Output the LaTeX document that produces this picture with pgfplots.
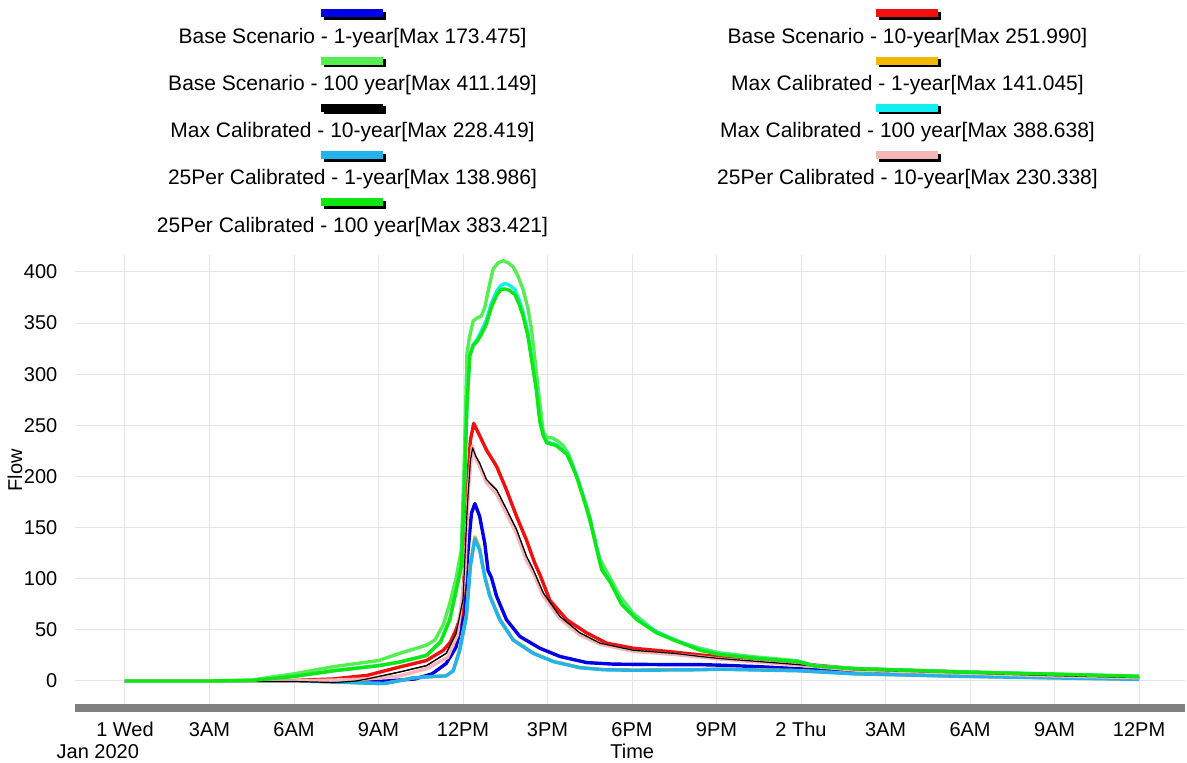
\documentclass[border=0pt]{standalone}
\usepackage{fontspec}
\setmainfont{Liberation Sans}
\usepackage{pgfplots}
\pgfplotsset{compat=1.18}
\usepackage{pgfplotstable}

\definecolor{cBone}{HTML}{0000E6}
\definecolor{cBten}{HTML}{F01010}
\definecolor{cBhun}{HTML}{55EE50}
\definecolor{cMone}{HTML}{F5B800}
\definecolor{cMten}{HTML}{000000}
\definecolor{cMhun}{HTML}{10F0F0}
\definecolor{cPone}{HTML}{22B2EE}
\definecolor{cPten}{HTML}{F4B6B6}
\definecolor{cPhun}{HTML}{10E610}

% legend swatch: coloured bar with a black shadow
\newcommand{\lbar}[1]{\makebox[31pt][l]{\rlap{\hspace*{1.2pt}\raisebox{-1.2pt}{\textcolor{black}{\rule{31pt}{4pt}}}}\textcolor{#1}{\rule{31pt}{4pt}}}}
% legend entry: swatch centred above the text
\newcommand{\lent}[2]{\vbox{\offinterlineskip\halign{\hfil##\hfil\cr\lbar{#1}\cr\noalign{\vskip 4.1pt}\fontsize{10.5}{12.6}\selectfont #2\cr}}}

% time in hours from 1 Jan 2020 00:00
\pgfplotstableread{
t v
0 0
3 0
6 0
7.5 -0.5
8.5 -1
9.3 0
10.3 2
10.9 7
11.4 17
11.75 33
12.0 62
12.18 128
12.30 164
12.42 173.5
12.59 161
12.77 135
12.89 108
13.01 101
13.19 83
13.54 60
14.02 43.5
14.73 32
15.44 24
16.39 18
17.34 16.5
19.23 16
20.42 16
21.1 15.5
22.5 14
23.9 12
25.9 9
29.6 5.6
33 3.8
36 2.3
}\bOne

\pgfplotstableread{
t v
0 0
3 0
6 0.5
7.4 2
8.6 5.5
9.75 13.7
10.7 20
11.3 30
11.55 38
11.75 50
11.94 65
12.06 110
12.16 190
12.26 235
12.38 252
12.5 245
12.59 240
12.83 226
13.19 210
13.54 187
13.90 161
14.25 138
14.55 115
14.73 104
15.08 79
15.68 60
16.39 47
17.10 37
18.05 32
19.23 29
20.42 25.5
21.1 23.7
23.9 17
25.9 12
29.6 9
33 6
36 4
}\bTen

\pgfplotstableread{
t v
0 0
3 0
4.5 1
6 7
7.4 14
9 20
9.75 27
10.7 35
11.0 40
11.3 55
11.53 76
11.75 100
11.94 128
12.05 220
12.14 320
12.22 335
12.36 352
12.5 355
12.65 357
12.77 365
12.92 385
13.07 403
13.25 409
13.42 411
13.6 409
13.78 405
13.95 396
14.13 383
14.3 365
14.43 344
14.55 315
14.67 285
14.85 243
15.0 238
15.14 238
15.35 235
15.56 230
15.75 222
15.91 210
16.15 190
16.39 168
16.62 144
16.86 119
17.16 104
17.57 83
18.05 66
18.76 50
19.47 40
20.42 32
21.1 27.6
22.3 23.7
23.4 21
23.88 19.7
24.5 14.8
25.94 12.2
29.6 8.9
33.2 6.6
36 4.6
}\bHun

\pgfplotstableread{
t v
0 0
6 0
7 -0.5
8.5 -2
9.2 -2.5
9.7 0
10.2 3
11 4.5
11.4 5
11.65 10
11.88 30
12.12 64
12.26 114
12.42 141
12.59 130
12.77 103
12.95 84
13.30 61
13.78 40.5
14.49 27.5
15.2 19.3
16.15 13.2
17 11.2
18.05 10.7
20.42 11.2
21.1 11.7
23.9 10.2
25.9 7.1
29.6 4.7
33 3.1
36 1.7
}\mOne

\pgfplotstableread{
t v
0 0
6 -0.5
7.5 -1.5
8.2 0
8.6 2
9.75 8.8
10.7 15
11.4 27
11.75 46
12.0 80
12.15 170
12.26 215
12.34 228
12.45 220
12.59 213
12.83 197
13.19 187
13.54 168
13.90 148
14.25 122
14.49 109
14.85 86
15.44 63
16.15 47
16.86 37
18.05 30
19.5 27
20.42 24
21.1 22
23.9 16
25.9 11
29.6 8
33 5.2
36 3.3
}\mTen

\pgfplotstableread{
t v
0 0
3 0
4.5 0.5
6 4.5
7.4 10
9 15
9.75 18.5
10.7 25
11.2 38
11.53 60
11.94 112
12.05 190
12.14 270
12.24 319
12.36 329
12.5 334
12.65 342
12.83 353
13.0 369
13.19 381
13.35 387
13.49 388.6
13.65 387
13.84 383
14.0 372
14.13 361
14.3 341
14.43 317
14.6 287
14.73 255
14.85 241
14.97 234
15.32 231
15.68 223
15.85 213
16.03 201
16.27 181
16.51 159
16.72 133
16.92 110
17.22 98
17.63 76
18.17 61
18.88 48
19.59 39.5
20.42 30.5
21.1 26.5
22.3 22.8
23.4 20.2
23.88 19.2
24.5 14.7
25.94 12.1
29.6 8.9
33.2 6.5
36 4.5
}\mHun

\pgfplotstableread{
t v
0 0
6 0
7 -0.5
8.5 -2
9.2 -2.5
9.7 0
10.2 3
11 4.5
11.4 5
11.65 10
11.88 30
12.12 63
12.26 112
12.42 139
12.59 128
12.77 102
12.95 83
13.30 60
13.78 40
14.49 27
15.2 19
16.15 13
17 11
18.05 10.5
20.42 11
21.1 11.5
23.9 10
25.9 7
29.6 4.6
33 3
36 1.6
}\pOne

\pgfplotstableread{
t v
0 0
6 0
7.5 1
8.6 2
9.75 5
10.7 12
11.45 23
11.8 45
12.05 100
12.2 190
12.33 230
12.45 218
12.59 210
12.83 194
13.19 183
13.54 164
13.90 144
14.25 118
14.49 106
14.85 83
15.44 61
16.15 45
16.86 36
18.05 29
19.5 26
20.42 23.5
21.1 21.5
23.9 15.5
25.9 10.7
29.6 7.8
33 5
36 3.2
}\pTen

\pgfplotstableread{
t v
0 0
3 0
4.5 0.5
6 4.5
7.4 10
9 15
9.75 18.5
10.7 25
11.2 38
11.53 60
11.94 112
12.05 190
12.14 270
12.24 318
12.36 328
12.5 332
12.65 339
12.83 349
13.0 365
13.19 377
13.35 383
13.49 383.4
13.65 382
13.84 378
14.0 368
14.13 357
14.3 338
14.43 315
14.6 285
14.73 253
14.85 240
14.97 233
15.32 230
15.68 222
15.85 212
16.03 200
16.27 180
16.51 158
16.72 132
16.92 109
17.22 97
17.63 75
18.17 60
18.88 47
19.59 39
20.42 30
21.1 26
22.3 22.5
23.4 20
23.88 19
24.5 14.5
25.94 12
29.6 8.8
33.2 6.5
36 4.5
}\pHun

\begin{document}
\begin{tikzpicture}
\useasboundingbox (-37.5pt,-27.5pt) rectangle (556pt,354pt);
\begin{axis}[
  scale only axis,
  width=555pt, height=226.5pt,
  xmin=-1.775, xmax=37.63,
  ymin=-26.4, ymax=416.6,
  axis x line=bottom, axis y line=left,
  axis line style={-},
  x axis line style={draw=black!50, line width=4pt},
  y axis line style={draw=none},
  tick style={draw=none},
  xtick={0,3,...,36},
  xticklabels={1 Wed,3AM,6AM,9AM,12PM,3PM,6PM,9PM,2 Thu,3AM,6AM,9AM,12PM},
  ytick={0,50,...,400},
  grid=major,
  major grid style={draw=black!10, line width=0.5pt},
  /pgf/number format/assume math mode=true,
  xticklabel style={anchor=base, yshift=-12pt},
  yticklabel style={xshift=-3.2pt},
  xlabel={Time},
  xlabel style={at={(axis description cs:0.502,0)}, anchor=base, yshift=-25.5pt},
  ylabel={Flow},
  ylabel style={at={(axis description cs:-0.0477,0.525)}, anchor=base},
  no markers,
  every axis plot/.append style={line width=1.7pt, line join=round},
  legend columns=2,
  legend image code/.code={},
  legend style={at={(0.5,1)}, anchor=north, yshift=125.3pt,
    draw=none, fill=none, inner sep=0pt, row sep=0pt,
    nodes={inner xsep=0pt, inner ysep=2.275pt, text depth={}, text height={}, minimum width=250pt, align=center},
    /tikz/every even column/.append style={column sep=27.5pt}},
]
\addplot[cBone] table {\bOne};
\addlegendentry{\lent{cBone}{Base Scenario - 1-year[Max 173.475]}}
\addplot[cBten] table {\bTen};
\addlegendentry{\lent{cBten}{Base Scenario - 10-year[Max 251.990]}}
\addplot[cBhun] table {\bHun};
\addlegendentry{\lent{cBhun}{Base Scenario - 100 year[Max 411.149]}}
\addplot[cMone] table {\mOne};
\addlegendentry{\lent{cMone}{Max Calibrated - 1-year[Max 141.045]}}
\addplot[cMten, line width=0.6pt] table {\mTen};
\addlegendentry{\lent{cMten}{Max Calibrated - 10-year[Max 228.419]}}
\addplot[cMhun] table {\mHun};
\addlegendentry{\lent{cMhun}{Max Calibrated - 100 year[Max 388.638]}}
\addplot[cPone] table {\pOne};
\addlegendentry{\lent{cPone}{25Per Calibrated - 1-year[Max 138.986]}}
\addplot[cPten] table {\pTen};
\addlegendentry{\lent{cPten}{25Per Calibrated - 10-year[Max 230.338]}}
\addplot[cMten, line width=0.6pt, forget plot] table {\mTen};
\addplot[cPhun] table {\pHun};
\addlegendentry{\lent{cPhun}{25Per Calibrated - 100 year[Max 383.421]}}
\end{axis}
\node[anchor=base] at (11.4pt,-25.5pt) {Jan 2020};
\end{tikzpicture}
\end{document}
